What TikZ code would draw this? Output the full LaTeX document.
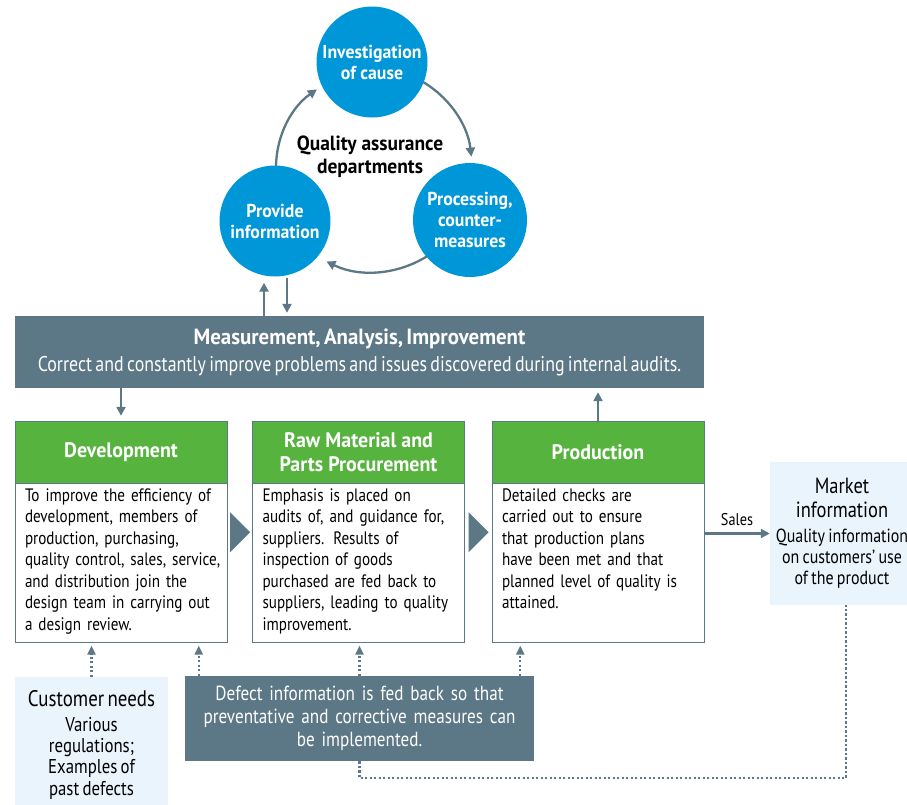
\documentclass[tikz,border=0pt]{standalone}
\usepackage{fontspec}
\setmainfont{PT Sans}[FakeStretch=0.84]
\newfontfamily\headsans{PT Sans}[FakeStretch=0.95]
\usetikzlibrary{positioning,arrows.meta,calc}

\definecolor{qablue}{HTML}{0097D8}
\definecolor{slate}{HTML}{5C7785}
\definecolor{qagreen}{HTML}{56B33E}
\definecolor{paleblue}{HTML}{EAF4FD}

\newcommand{\bodyfont}{\fontsize{18}{21.5}\selectfont}
\newcommand{\headfont}{\fontsize{21}{24}\selectfont\headsans\bfseries}

\tikzset{
  qacircle/.style={circle, fill=qablue, minimum size=111pt, inner sep=0pt,
    text=white, align=center, font=\fontsize{18.7}{21}\selectfont\headsans\bfseries},
  flow/.style={draw=slate, line width=2.3pt, -{Triangle[length=9pt,width=9pt]}},
  feed/.style={draw=slate, line width=2.3pt, dash pattern=on 2.3pt off 2.2pt,
    -{Triangle[length=9pt,width=8pt]}},
  stagehead/.style={draw=slate, fill=qagreen, minimum width=212pt,
    minimum height=62pt, inner sep=0pt, text=white, align=center, font=\headfont},
  stagebody/.style={draw=slate, fill=white, minimum width=212pt,
    minimum height=159pt, inner sep=0pt},
  stagetext/.style={anchor=north west, text width=205pt, align=left,
    inner sep=0pt, font=\bodyfont},
  slatebox/.style={fill=slate, text=white, inner sep=0pt, align=center},
  infobox/.style={fill=paleblue, text=black, inner sep=0pt, align=center},
}

\begin{document}
\begin{tikzpicture}[x=1pt,y=1pt]
  \useasboundingbox (0,0) rectangle (907,-804);

  % quality assurance cycle
  \coordinate (qc) at (372,-168);
  \draw[flow] ([shift={(185:96)}]qc) arc[start angle=185, end angle=125, radius=96];
  \draw[flow] ([shift={(62:100)}]qc) arc[start angle=62, end angle=6.5, radius=100];
  \draw[flow] ([shift={(-55:104)}]qc) arc[start angle=-55, end angle=-116, radius=104];

  \node[qacircle] (inv) at (372,-62) {Investigation\\of cause};
  \node[qacircle] (prov) at (275,-221) {Provide\\information};
  \node[qacircle, minimum size=114pt] (proc) at (470,-220) {Processing,\\counter-\\measures};
  \node[align=center, font=\fontsize{20.5}{23}\selectfont\headsans\bfseries] (qalabel) at (370,-157)
    {Quality assurance\\departments};

  % measurement bar
  \node[slatebox, minimum width=689pt, minimum height=72pt, text width=685pt] (bar) at (359.5,-352)
    {{\fontsize{22}{24}\selectfont\headsans\bfseries Measurement, Analysis, Improvement\par}
     \vspace{3pt}
     {\fontsize{21.3}{24}\selectfont Correct and constantly improve problems and issues discovered during internal audits.\par}};

  \draw[flow] ([xshift=-11pt]prov.south |- bar.north) -- ([xshift=-11pt,yshift=-6pt]prov.south);
  \draw[flow, shorten >=3pt] ([xshift=12pt,yshift=-1pt]prov.south) -- ([xshift=12pt]prov.south |- bar.north);

  % stages
  \node[stagehead] (devhead) at (121,-452) {Development};
  \node[stagebody, below=0pt of devhead] (devbody) {};
  \node[stagetext] (devtext) at ([xshift=10pt,yshift=-5pt]devbody.north west)
    {To improve the efficiency of\\development, members of\\production, purchasing,\\quality control, sales, service,\\and distribution join the\\design team in carrying out\\a design review.};

  \node[stagehead] (rawhead) at (358.5,-452) {Raw Material and\\Parts Procurement};
  \node[stagebody, below=0pt of rawhead] (rawbody) {};
  \node[stagetext] (rawtext) at ([xshift=10pt,yshift=-5pt]rawbody.north west)
    {Emphasis is placed on\\audits of, and guidance for,\\suppliers. Results of\\inspection of goods\\purchased are fed back to\\suppliers, leading to quality\\improvement.};

  \node[stagehead] (prodhead) at (598,-452) {Production};
  \node[stagebody, below=0pt of prodhead] (prodbody) {};
  \node[stagetext] (prodtext) at ([xshift=10pt,yshift=-5pt]prodbody.north west)
    {Detailed checks are\\carried out to ensure\\that production plans\\have been met and that\\planned level of quality is\\attained.};

  \fill[slate] ($(devbody.north east)+(3,-29)$) -- ++(20,-20) -- ++(-20,-20) -- cycle;
  \fill[slate] ($(rawbody.north east)+(4,-29)$) -- ++(20,-20) -- ++(-20,-20) -- cycle;

  \draw[flow, shorten >=5pt] (bar.south -| devhead.north) -- (devhead.north);
  \draw[flow, shorten >=4pt] (prodhead.north) -- (prodhead.north |- bar.south);

  % market side
  \node[infobox, minimum width=144pt, minimum height=143pt, text width=140pt] (market) at (842,-533.5)
    {{\fontsize{22}{24}\selectfont Market\\information\par}
     \vspace{3pt}
     {\fontsize{19}{21.3}\selectfont Quality information\\on customers’ use\\of the product\par}};
  \draw[flow] (market.west -| prodbody.east) -- node[above=3pt, font=\fontsize{17}{19}\selectfont] (sales) {Sales} (market.west);

  % feedback
  \node[infobox, minimum width=153pt, minimum height=136pt, text width=150pt] (cust) at (91.5,-745)
    {{\fontsize{22.5}{24}\selectfont Customer needs\par}
     \vspace{3pt}
     {\fontsize{20}{21.3}\selectfont Various\\regulations;\\Examples of\\past defects\par}};
  \node[slatebox, minimum width=349pt, minimum height=85pt, text width=345pt,
    font=\fontsize{20.4}{23}\selectfont] (defect) at (359.5,-718.5)
    {Defect information is fed back so that\\preventative and corrective measures can\\be implemented.};

  \draw[feed, shorten >=3pt] (cust.north) -- (cust.north |- devbody.south);
  \draw[feed, shorten >=3pt] ([xshift=14pt]defect.north west) -- ([xshift=14pt]defect.north west |- devbody.south);
  \draw[feed, shorten >=3pt] (defect.north) -- (defect.north |- rawbody.south);
  \draw[feed, shorten >=3pt] ([xshift=-14pt]defect.north east) -- ([xshift=-14pt]defect.north east |- prodbody.south);
  \draw[feed, -] (defect.south) -- ++(0,-17) -| ([xshift=4pt]market.south);
\end{tikzpicture}
\end{document}
